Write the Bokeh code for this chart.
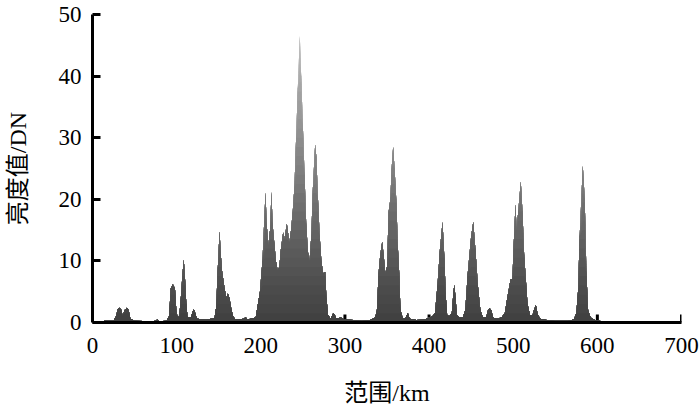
import numpy as np
from bokeh.plotting import figure
from bokeh.models import Range1d, FixedTicker
from bokeh.embed import file_html
from bokeh.resources import INLINE

# Profile: distance (km) and brightness (DN)
km = [0, 12, 14, 25, 28, 30, 32, 34, 36, 38, 41, 43, 45, 50, 70, 75, 77, 79, 88, 91,
      93, 95.5, 98, 100, 103, 105, 107, 108.5, 110, 111.5, 113, 117, 119, 120.5, 122, 124,
      135, 145, 147, 149, 151, 152.5, 154, 157, 159, 161, 163, 165, 167, 170, 180, 182,
      184, 194, 196, 199, 202, 205.6, 207, 209, 211, 212.7, 214, 216, 218, 220, 222, 224,
      226.6, 228, 231, 234, 236, 238, 240, 242, 244, 246.4, 248, 250, 252, 254, 256, 258,
      260, 262, 264.6, 266, 268, 270, 272, 274, 276.5, 278, 280, 283, 286, 288, 290, 295,
      300, 310, 320, 330, 336, 338, 340, 342, 344.3, 346, 348, 350, 352, 354, 355.5, 357.3,
      359, 361, 363, 364.5, 366, 369, 372, 374.7, 377, 385, 395, 400, 404, 407, 410, 413,
      416, 418, 420, 421.5, 424, 427, 429, 430, 431.5, 433, 436, 440, 443, 446, 450, 452.5,
      455, 458, 461, 464, 468, 470, 472, 474, 476, 480, 486, 490, 493, 496.8, 499, 501,
      502.7, 504, 506, 509, 511, 513, 515, 517, 520, 523, 525, 527, 529, 532, 540, 550,
      565, 572, 575, 577, 579, 582.7, 585, 587, 589, 592, 597, 602, 606, 612, 618]
dn = [0, 0, 0.3, 0.3, 1.0, 2.2, 2.4, 2.1, 1.0, 2.0, 2.4, 2.0, 0.6, 0.3, 0.2, 0.3, 0.5, 0.2, 0.3, 1.0,
      5.5, 6.2, 5.5, 1.2, 0.8, 4.0, 8.0, 10.2, 7.0, 3.0, 0.8, 0.8, 1.8, 2.1, 1.6, 0.6,
      0.5, 0.7, 2.5, 9.0, 14.8, 11.0, 8.3, 5.5, 4.0, 4.7, 3.8, 2.2, 1.0, 0.5, 0.6, 0.9,
      0.5, 0.8, 2.5, 5.0, 10.0, 21.1, 16.0, 12.5, 15.0, 21.2, 16.0, 13.0, 10.0, 8.5, 9.0, 12.0,
      14.6, 13.5, 16.0, 13.0, 15.0, 18.0, 22.0, 30.0, 38.0, 46.5, 40.0, 32.0, 24.0, 16.0, 11.5, 10.0,
      14.0, 22.0, 28.9, 27.0, 20.0, 14.0, 10.0, 8.0, 8.2, 4.0, 1.2, 0.6, 1.5, 1.2, 0.6, 0.8,
      0.5, 0.4, 0.3, 0.4, 0.8, 2.0, 8.0, 11.0, 13.1, 11.0, 8.0, 9.0, 18.0, 20.0, 25.0, 28.5,
      25.0, 20.0, 12.0, 8.0, 2.0, 0.6, 0.7, 1.6, 0.6, 0.4, 0.5, 0.8, 1.0, 1.5, 6.0, 12.0,
      16.3, 11.0, 4.0, 1.2, 1.0, 1.5, 5.0, 6.1, 4.0, 1.2, 0.8, 0.8, 2.0, 8.0, 14.0, 16.3,
      12.0, 6.0, 2.0, 0.8, 0.9, 2.0, 2.3, 2.0, 0.8, 0.6, 0.8, 1.5, 4.0, 7.0, 7.0, 14.0,
      19.2, 15.0, 18.0, 22.9, 18.0, 11.0, 7.0, 3.0, 1.2, 1.2, 2.2, 2.8, 1.4, 0.6, 0.4, 0.3,
      0.3, 0.5, 1.5, 5.0, 14.0, 25.4, 20.0, 8.0, 2.0, 0.8, 0.4, 0.3, 0.2, 0.1, 0]

x_ticks = [0, 100, 200, 300, 400, 500, 600, 700]
y_ticks = [0, 10, 20, 30, 40, 50]
x_title = "范围/km"
y_title = "亮度值/DN"

km_a = np.array(km, dtype=float)
dn_a = np.array(dn, dtype=float)

p = figure(width=700, height=408, output_backend="svg", toolbar_location=None,
           x_range=Range1d(0, 700), y_range=Range1d(0, 50),
           min_border_left=92, min_border_right=19, min_border_top=14, min_border_bottom=86)
p.grid.visible = False
p.outline_line_color = None
p.background_fill_color = "white"
p.border_fill_color = "white"

# inward x ticks, drawn beneath the profile fill (as in the reference)
p.scatter(x=x_ticks, y=[0] * len(x_ticks), marker="dash", size=16, angle=np.pi / 2,
          line_color="black", line_width=3)

# height-shaded fill (darker at the base, lighter toward the top);
# drawn from the top level down so the layers overlap without seams
levels = np.arange(1.5, 51.5, 1.5)
for hi in levels[::-1]:
    mid = hi - 0.75
    g = int(round(64 + 126 * (max(mid, 0) / 46.5) ** 1.1))
    g = min(g, 195)
    col = "#%02x%02x%02x" % (g, g, g)
    p.varea(x=km_a, y1=np.zeros_like(dn_a), y2=np.minimum(dn_a, hi),
            fill_color=col, fill_alpha=1.0)

FONT = "Liberation Serif"
for ax in (p.xaxis[0], p.yaxis[0]):
    ax.axis_line_width = 3
    ax.axis_line_color = "black"
    ax.major_tick_line_width = 3
    ax.major_tick_line_color = "black"
    ax.major_tick_in = 8
    ax.major_tick_out = 0
    ax.minor_tick_line_color = None
    ax.major_label_text_font = FONT
    ax.major_label_text_font_size = "23px"
    ax.major_label_text_color = "black"
    ax.axis_label_text_font = "Liberation Serif, Noto Sans CJK SC"
    ax.axis_label_text_font_size = "24px"
    ax.axis_label_text_font_style = "normal"
    ax.axis_label_text_color = "black"

p.xaxis.major_tick_line_color = None
p.xaxis.ticker = FixedTicker(ticks=x_ticks)
p.yaxis.ticker = FixedTicker(ticks=y_ticks)
p.xaxis.axis_label = x_title
p.yaxis.axis_label = y_title
p.xaxis.major_label_standoff = 15
p.yaxis.major_label_standoff = 11
p.xaxis.axis_label_standoff = 24
p.yaxis.axis_label_standoff = 25

open("out.html", "w").write(file_html(p, INLINE))
